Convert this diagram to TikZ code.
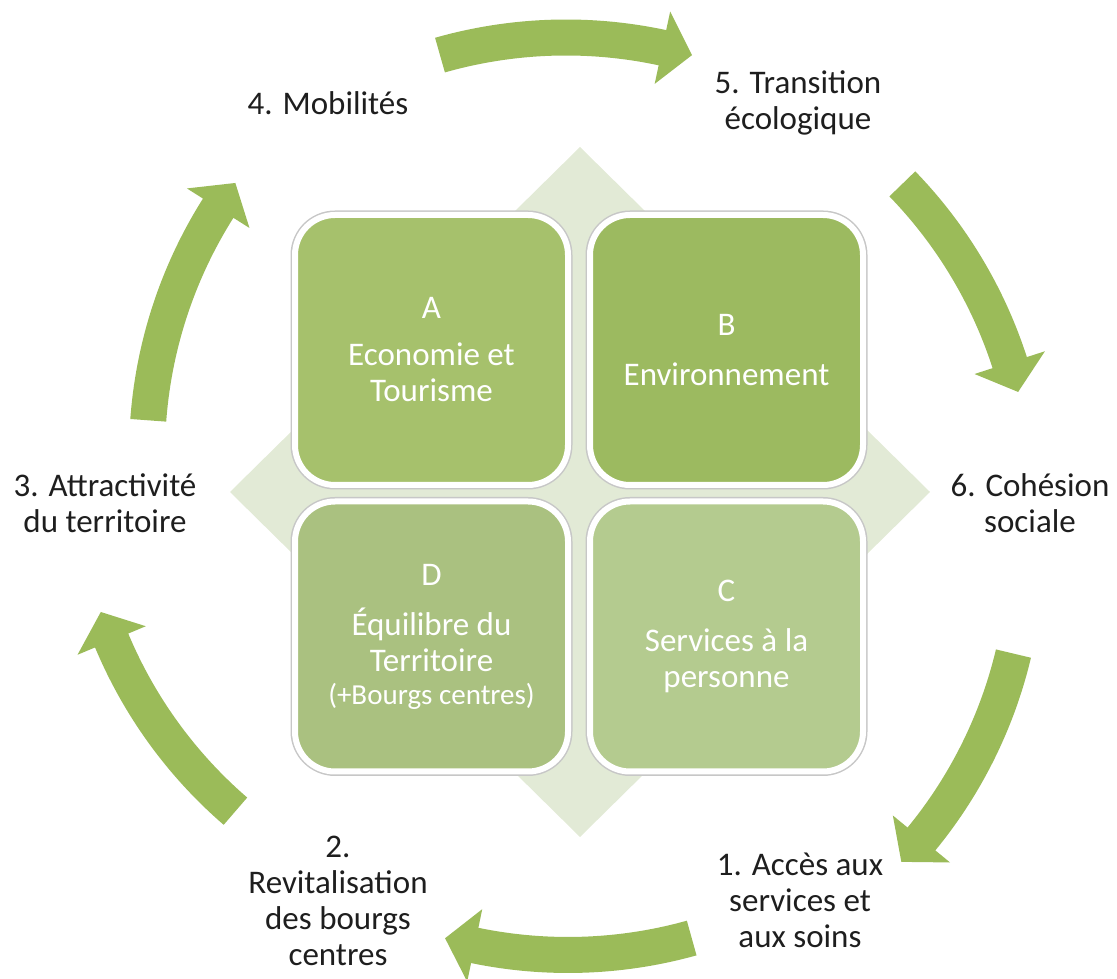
\documentclass[tikz,border=0pt]{standalone}
\usepackage{fontspec}
\setmainfont{Carlito}
\definecolor{arrowgreen}{HTML}{9BBB59}
\definecolor{diamondc}{HTML}{E2EAD6}
\definecolor{boxA}{HTML}{A6C16C}
\definecolor{boxB}{HTML}{9CBA60}
\definecolor{boxD}{HTML}{AAC180}
\definecolor{boxC}{HTML}{B4CB8F}
\definecolor{txt}{HTML}{1E1E1E}
\newcommand\cycarrow[5]{%
  \pgfmathsetmacro\cyAh{#5+3.8}%
  \pgfmathsetmacro\cyRo{#3+18}%
  \pgfmathsetmacro\cyRi{#3-18}%
  \pgfmathsetmacro\cyHo{#3+37}%
  \pgfmathsetmacro\cyHi{#3-37}%
  \begin{scope}[shift={(#1,#2)}]
  \fill[arrowgreen] (#4:\cyRo pt) arc[start angle=#4, end angle=\cyAh, radius=\cyRo pt]
    -- (\cyAh:\cyHo pt) -- (#5:#3pt) -- (\cyAh:\cyHi pt) -- (\cyAh:\cyRi pt)
    arc[start angle=\cyAh, end angle=#4, radius=\cyRi pt] -- cycle;
  \end{scope}}
\begin{document}
\begin{tikzpicture}[x=1pt,y=1pt,
  quad/.style={draw=white, line width=6pt, rounded corners=40pt,
    minimum width=273pt, minimum height=270pt, text=white, align=center,
    font=\fontsize{33}{36}\selectfont, inner sep=0pt,
    preaction={draw=black!22, line width=9pt}},
  lbl/.style={align=center, text=txt, font=\fontsize{33}{36}\selectfont, inner sep=0pt}]
\useasboundingbox (0,0) rectangle (1117,978);
% background diamond
\fill[diamondc] (580,831) -- (930,486) -- (580,141) -- (230,486) -- cycle;
% four quadrants
\node[quad, fill=boxA] (A) at (431.5,628) {A\\[11pt]Economie et\\Tourisme};
\node[quad, fill=boxB] (B) at (726.5,628) {B\\[14pt]Environnement};
\node[quad, fill=boxD] (D) at (431.5,341.5) {D\\[14pt]Équilibre du\\Territoire\\[-3pt]{\fontsize{29}{31}\selectfont (+Bourgs centres)}};
\node[quad, fill=boxC] (C) at (726.5,341.5) {C\\[14pt]Services à la\\personne};
% circular arrows
\cycarrow{566}{480.5}{460}{105.9}{74.1}
\cycarrow{572}{474}{460}{44.1}{14.1}
\cycarrow{566}{431}{460}{-13.4}{-43.2}
\cycarrow{568}{483}{460}{-74.4}{-105.5}
\cycarrow{536}{515}{460}{-130.8}{-161.1}
\cycarrow{607}{524}{460}{175.8}{143.9}
% labels
\node[lbl] (l4) at (328,875) {4. Mobilités};
\node[lbl] (l5) at (798,875) {5. Transition\\écologique};
\node[lbl] (l6) at (1030,475) {6. Cohésion\\sociale};
\node[lbl] (l3) at (105,475) {3. Attractivité\\du territoire};
\node[lbl] (l1) at (800,78) {1. Accès aux\\services et\\aux soins};
\node[lbl] (l2) at (338,77) {2.\\Revitalisation\\des bourgs\\centres};
\end{tikzpicture}
\end{document}
